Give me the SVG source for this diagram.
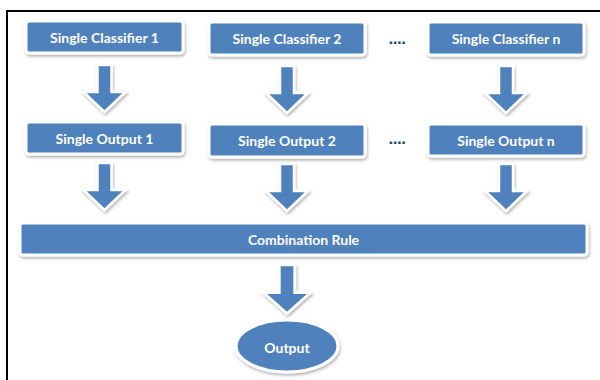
<svg xmlns="http://www.w3.org/2000/svg" width="600" height="380" viewBox="0 0 600 380">
<defs>
<filter id="sh" x="-10%" y="-30%" width="120%" height="170%">
<feDropShadow dx="1" dy="2" stdDeviation="1.5" flood-color="#000" flood-opacity="0.3"/>
</filter>
<path id="arr" d="M-7,0 H7 V27 H21 L0,47 L-21,27 H-7 Z"/>
</defs>
<style>
.box{fill:#4F81BD;stroke:#fff;stroke-width:3;filter:url(#sh)}
.lbl{fill:#fff;font-family:Lato,"Liberation Sans",sans-serif;font-weight:bold;font-size:14px;text-anchor:middle;dominant-baseline:central}
.arrow{fill:#4F81BD;stroke:#fff;stroke-width:2.5;stroke-linejoin:miter;filter:url(#sh)}
.dots{fill:#1F497D;font-family:"Liberation Sans",sans-serif;font-weight:bold;font-size:17px;letter-spacing:-0.5px;text-anchor:middle}
</style>
<rect width="600" height="380" fill="#fff"/>
<path d="M7,380 V11 H600" fill="none" stroke="#000" stroke-width="2"/>
<g id="connectors">
<use href="#arr" class="arrow" transform="translate(104.5,65)"/>
<use href="#arr" class="arrow" transform="translate(287,66)"/>
<use href="#arr" class="arrow" transform="translate(506,66)"/>
<use href="#arr" class="arrow" transform="translate(104.5,163)"/>
<use href="#arr" class="arrow" transform="translate(287,164)"/>
<use href="#arr" class="arrow" transform="translate(506,164)"/>
<use href="#arr" class="arrow" transform="translate(287,265) scale(1.1,1.03)"/>
</g>
<g id="c1"><rect class="box" x="26" y="21" width="157" height="32" rx="3"/><text class="lbl" x="104.5" y="37">Single Classifier 1</text></g>
<g id="c2"><rect class="box" x="209" y="22" width="156" height="33" rx="3"/><text class="lbl" x="287" y="38.5">Single Classifier 2</text></g>
<g id="cn"><rect class="box" x="428" y="22" width="156" height="33" rx="3"/><text class="lbl" x="506" y="38.5">Single Classifier n</text></g>
<g id="o1"><rect class="box" x="26" y="122" width="157" height="32" rx="3"/><text class="lbl" x="104.5" y="138">Single Output 1</text></g>
<g id="o2"><rect class="box" x="209" y="124" width="156" height="33" rx="3"/><text class="lbl" x="287" y="140.5">Single Output 2</text></g>
<g id="on"><rect class="box" x="428" y="124" width="156" height="32" rx="3"/><text class="lbl" x="506" y="140">Single Output n</text></g>
<g id="dots1"><text class="dots" x="397" y="44">....</text></g>
<g id="dots2"><text class="dots" x="397" y="144">....</text></g>
<g id="comb"><rect class="box" x="20" y="223" width="567" height="32" rx="3"/><text class="lbl" x="303.5" y="239">Combination Rule</text></g>
<g id="out"><ellipse class="box" cx="287" cy="346" rx="51" ry="26"/><text class="lbl" x="287" y="347">Output</text></g>
</svg>
